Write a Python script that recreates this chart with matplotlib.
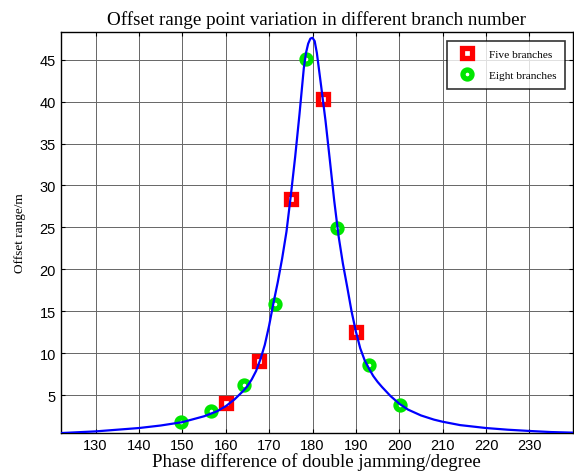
import numpy as np
import matplotlib
matplotlib.use("Agg")
import matplotlib.pyplot as plt

# データ
curve_x = [122, 130, 140, 145, 150, 155, 158, 160, 162, 164, 165, 166, 167,
           168, 169, 170, 171, 172, 173, 174, 175, 176, 177, 178, 178.5, 179,
           179.5, 180, 180.5, 181, 182, 183, 184, 185, 186, 187, 188, 189,
           190, 191, 192, 193, 194, 195, 196, 198, 200, 202, 205, 208, 210,
           214, 220, 225, 230, 235, 240]
curve_y = [0.5, 0.7, 1.1, 1.4, 1.8, 2.5, 3.1, 3.7, 4.5, 5.5, 6.1, 6.9, 7.9,
           9.3, 11.0, 13.3, 16.0, 18.5, 21.3, 24.5, 28.8, 33.4, 38.5, 44.0,
           45.8, 46.9, 47.5, 47.6, 47.2, 45.8, 41.8, 37.7, 33.0, 28.2, 24.0,
           20.7, 17.9, 15.0, 12.6, 10.6, 9.2, 8.2, 7.3, 6.6, 6.0, 4.9, 4.0,
           3.3, 2.6, 2.1, 1.85, 1.45, 1.1, 0.9, 0.75, 0.62, 0.55]

five_x = [160, 167.6, 175, 182.5, 190]
five_y = [4.1, 9.1, 28.4, 40.3, 12.6]

eight_x = [149.8, 156.6, 164.2, 171.3, 178.5, 185.7, 193.0, 200.1]
eight_y = [1.83, 3.1, 6.2, 15.9, 45.1, 24.95, 8.6, 3.9]

xticks = list(range(130, 231, 10))
yticks = list(range(5, 46, 5))

fig = plt.figure(figsize=(5.74, 4.77), dpi=100)
ax = fig.add_axes([0.106, 0.090, 0.892, 0.841])

serif = ["Liberation Serif", "DejaVu Serif"]

ax.plot(five_x, five_y, linestyle="none", marker="s", markersize=6.5,
        markerfacecolor="white", markeredgecolor="red", markeredgewidth=3.8,
        label="Five branches", zorder=3)
ax.plot(eight_x, eight_y, linestyle="none", marker="o", markersize=6.5,
        markerfacecolor="white", markeredgecolor="#00e600", markeredgewidth=3.8,
        label="Eight branches", zorder=3)
ax.plot(curve_x, curve_y, color="blue", linewidth=1.6, zorder=4)

ax.set_xlim(122, 240)
ax.set_ylim(0.5, 48.3)
ax.set_xticks(xticks)
ax.set_yticks(yticks)
ax.grid(True, color="0.4", linewidth=0.7)
ax.tick_params(direction="in", top=True, right=True, length=3, labelsize=10.5)
for lab in ax.get_xticklabels() + ax.get_yticklabels():
    lab.set_family(["Liberation Sans", "DejaVu Sans"])
for sp in ax.spines.values():
    sp.set_linewidth(1.0)

ax.set_title("Offset range point variation in different branch number",
             family=serif, fontsize=13.7, pad=6)
ax.set_xlabel("Phase difference of double jamming/degree", family=serif,
              fontsize=13.6, labelpad=0)
ax.set_ylabel("Offset range/m", family=serif, fontsize=9.5, labelpad=10)

leg = ax.legend(loc="upper right", bbox_to_anchor=(0.984, 0.978),
                borderaxespad=0,
                prop={"family": serif, "size": 8.2}, frameon=True,
                fancybox=False, edgecolor="black", borderpad=0.75,
                labelspacing=0.95, handletextpad=0.9)
leg.get_frame().set_linewidth(1.2)

fig.savefig("out.png", dpi=100)
